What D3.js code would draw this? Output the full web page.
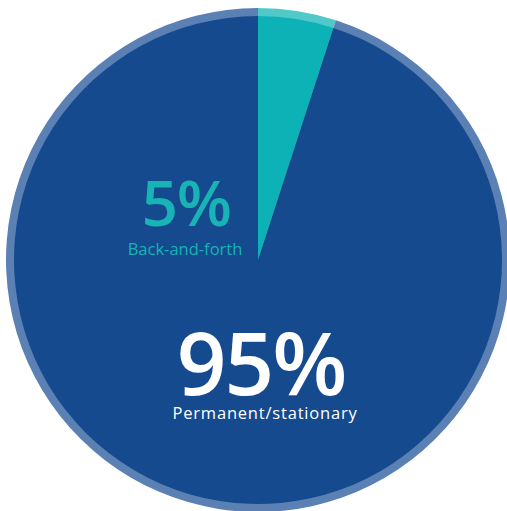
<!DOCTYPE html>
<html>
<head>
<meta charset="utf-8">
<script src="https://cdn.jsdelivr.net/npm/d3@7"></script>
<style>
  html, body { margin: 0; padding: 0; background: #ffffff; }
  svg { display: block; }
</style>
</head>
<body>
<svg id="chart" width="507" height="511"></svg>
<script>
// Share of movement type
const categories = ["Back-and-forth", "Permanent/stationary"];
const values = [5, 95];
const valueLabels = ["5%", "95%"];

const fillColors = ["#0db2b6", "#154a8e"];
const rimColors  = ["#52c9c9", "#5b80b4"];

const cx = 258, cy = 260;
const outerR = 252, innerRimR = 244;

const svg = d3.select("#chart");
const g = svg.append("g").attr("transform", `translate(${cx},${cy})`);

const pie = d3.pie().sort(null).value(d => d);
const arcs = pie(values);

const rimArc = d3.arc().innerRadius(0).outerRadius(outerR);
const bodyArc = d3.arc().innerRadius(0).outerRadius(innerRimR);

// Lighter outer rim
g.selectAll("path.rim")
  .data(arcs)
  .join("path")
  .attr("class", "rim")
  .attr("d", rimArc)
  .attr("fill", (d, i) => rimColors[i]);

// Slice bodies
g.selectAll("path.body")
  .data(arcs)
  .join("path")
  .attr("class", "body")
  .attr("d", bodyArc)
  .attr("fill", (d, i) => fillColors[i]);

// Labels
const labelPos = [
  { vx: -72, lx: -73, vy: -34, ly: -5, vSize: 64, vSpace: -1.5, lSize: 16.5, lSpace: 0, color: "#17b3b5" },
  { vx: 3, lx: 7, vy: 135, ly: 159, vSize: 87, vSpace: -2, lSize: 16.5, lSpace: 0.8, color: "#ffffff" }
];

categories.forEach((c, i) => {
  const p = labelPos[i];
  g.append("text")
    .attr("x", p.vx).attr("y", p.vy)
    .attr("text-anchor", "middle")
    .attr("font-family", "'Open Sans', sans-serif")
    .attr("font-weight", 600)
    .attr("font-size", p.vSize)
    .attr("fill", p.color)
    .attr("letter-spacing", p.vSpace)
    .text(valueLabels[i]);
  g.append("text")
    .attr("x", p.lx).attr("y", p.ly)
    .attr("text-anchor", "middle")
    .attr("font-family", "'Open Sans', sans-serif")
    .attr("font-size", p.lSize)
    .attr("letter-spacing", p.lSpace)
    .attr("fill", p.color)
    .text(c);
});
</script>
</body>
</html>
